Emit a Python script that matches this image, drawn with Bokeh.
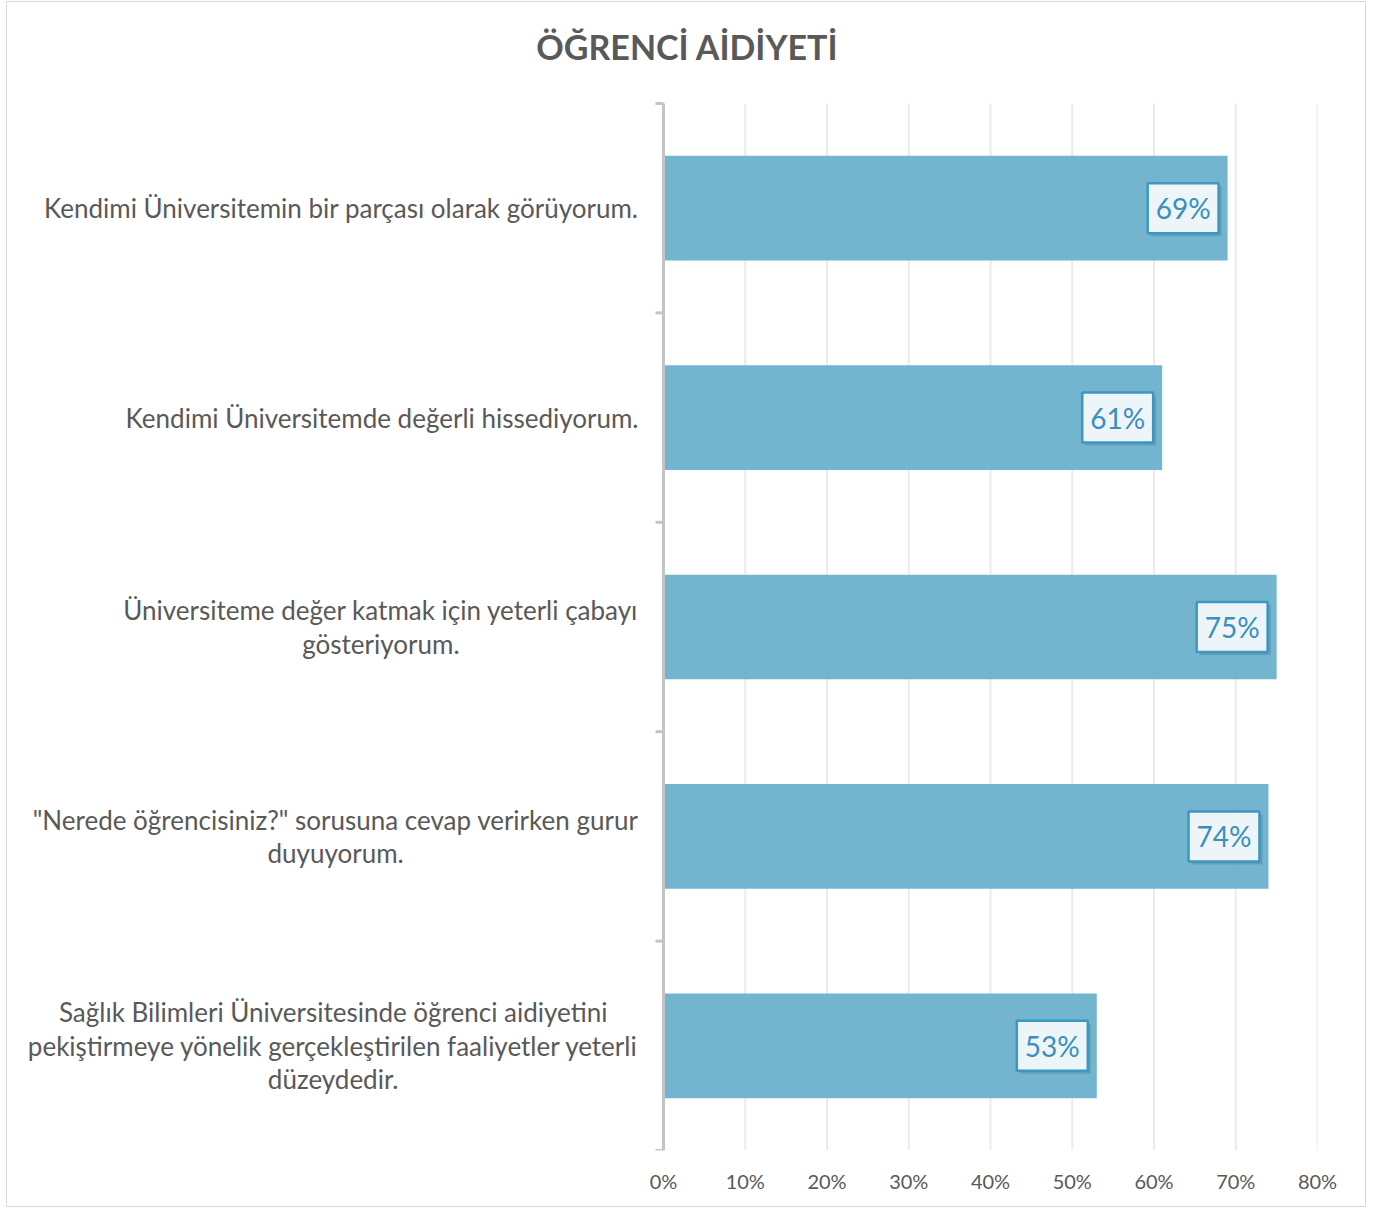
from bokeh.plotting import figure
from bokeh.models import (Range1d, FixedTicker, NumeralTickFormatter,
                          ColumnDataSource, Label)
from bokeh.core.properties import value
from bokeh.embed import file_html
from bokeh.resources import INLINE

title_text = "ÖĞRENCİ AİDİYETİ"
categories = [
    "Kendimi Üniversitemin bir parçası olarak görüyorum.",
    "Kendimi Üniversitemde değerli hissediyorum.",
    "Üniversiteme değer katmak için yeterli çabayı\ngösteriyorum.",
    "\"Nerede öğrencisiniz?\" sorusuna cevap verirken gurur\nduyuyorum.",
    "Sağlık Bilimleri Üniversitesinde öğrenci aidiyetini\npekiştirmeye yönelik gerçekleştirilen faaliyetler yeterli\ndüzeydedir.",
]
values = [0.69, 0.61, 0.75, 0.74, 0.53]
x_ticks = [0.0, 0.1, 0.2, 0.3, 0.4, 0.5, 0.6, 0.7, 0.8]

n = len(categories)
ypos = [i + 0.5 for i in range(n)]
bounds = list(range(n + 1))
labels = [f"{round(v * 100)}%" for v in values]

# layout geometry (pixels)
W, H = 1360, 1206
FRAME_W, FRAME_H = 1310, 1148
PLOT_LEFT_PX = 656      # where 0% sits inside the frame
PLOT_TOP_PX = 101       # where the first category band starts
BAND_PX = 1047 / n
XMAX = x_ticks[-1]
px_per_x = 654 / XMAX
x_min = -PLOT_LEFT_PX / px_per_x
y_min = -PLOT_TOP_PX / BAND_PX
tick_len = 8 / px_per_x

src = ColumnDataSource(dict(y=ypos, v=values, lab=labels))

p = figure(width=W, height=H, x_range=Range1d(x_min, XMAX), y_range=Range1d(n, y_min),
           output_backend="svg", toolbar_location=None, y_axis_location=None,
           min_border_left=0, min_border_top=0, min_border_right=W - FRAME_W,
           min_border_bottom=H - FRAME_H)
p.outline_line_color = None
p.background_fill_color = "white"
p.border_fill_color = "white"
p.grid.grid_line_color = None

# vertical gridlines over the plot band only
p.segment(x0=x_ticks, x1=x_ticks, y0=[0] * len(x_ticks), y1=[n] * len(x_ticks),
          line_color="#ebebeb", line_width=2)

p.hbar(y="y", right="v", left=0, height=0.5, source=src,
       fill_color="#6cb0cc", fill_alpha=0.95, line_color=None)

# category axis line and boundary ticks
p.segment(x0=[0], x1=[0], y0=[0], y1=[n], line_color="#c4c4c4", line_width=3)
p.segment(x0=[-tick_len] * len(bounds), x1=[0] * len(bounds), y0=bounds, y1=bounds,
          line_color="#c4c4c4", line_width=3)

# x axis
p.xaxis.ticker = FixedTicker(ticks=x_ticks)
p.xaxis.formatter = NumeralTickFormatter(format="0%")
p.xaxis.axis_line_color = None
p.xaxis.major_tick_line_color = None
p.xaxis.minor_tick_line_color = None
p.xaxis.major_label_text_font = "Lato"
p.xaxis.major_label_text_font_size = "20px"
p.xaxis.major_label_text_color = "#595959"
p.xaxis.major_label_standoff = 12

for yc, cat in zip(ypos, categories):
    p.add_layout(Label(x=0, y=yc, x_offset=-25, text=cat, anchor="center_right",
                       text_align="center", text_baseline="middle",
                       text_font="Lato", text_font_size="26px",
                       text_line_height=1.05, text_color="#595959"))

# value labels: shadow + box
p.text(x="v", y="y", text="lab", source=src, x_offset=-6, y_offset=3,
       text_align="right", text_baseline="middle",
       text_font=value("Lato"), text_font_size="28px", text_alpha=0.0,
       background_fill_color="#000000", background_fill_alpha=0.12,
       padding=8)
p.text(x="v", y="y", text="lab", source=src, x_offset=-9, y_offset=0,
       text_align="right", text_baseline="middle",
       text_font=value("Lato"), text_font_size="28px", text_color="#3a8fbd",
       background_fill_color="#eef5f9", background_fill_alpha=1.0,
       border_line_color="#3d97c1", border_line_width=2.5,
       padding=8)

p.add_layout(Label(x=0, y=0, x_offset=24, y_offset=57, text=title_text,
                   text_align="center", text_baseline="middle", text_font="Lato",
                   text_font_size="34px", text_font_style="bold", text_color="#595959"))

p.styles = {"border": "1px solid #d9d9d9", "margin-left": "6px", "margin-top": "1px"}

open("out.html", "w").write(file_html(p, INLINE))
